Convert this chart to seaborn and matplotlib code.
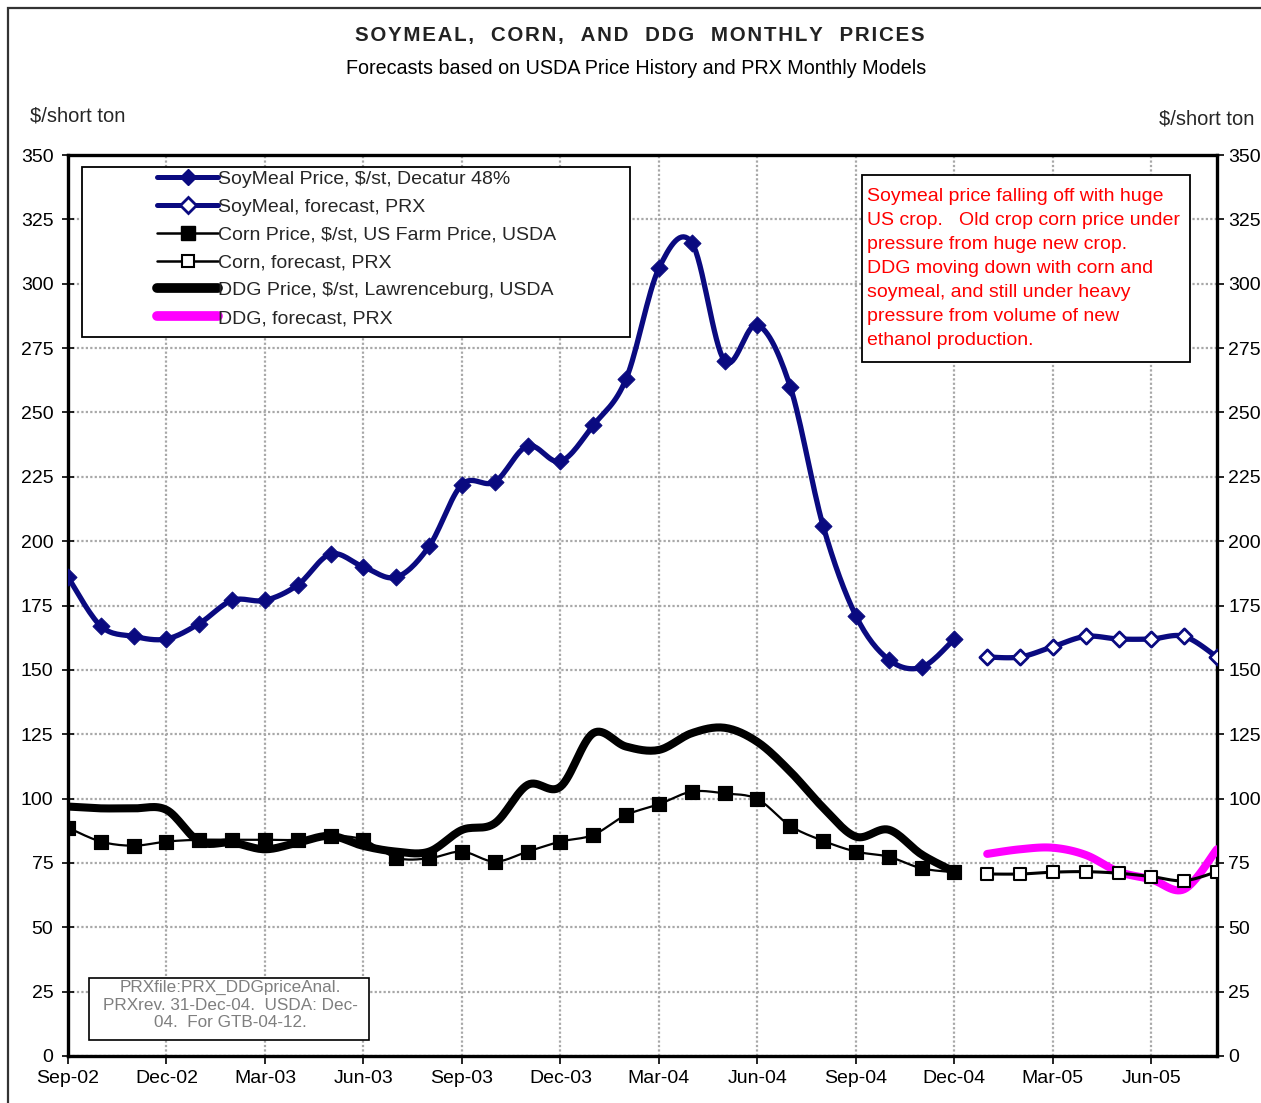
import numpy as np
import pandas as pd
import seaborn as sns
import matplotlib.pyplot as plt
from matplotlib.lines import Line2D
from matplotlib.patches import Rectangle

# monthly index: 0 = Sep-02 ... 35 = Aug-05
tick_labels = ['Sep-02', 'Dec-02', 'Mar-03', 'Jun-03', 'Sep-03', 'Dec-03',
               'Mar-04', 'Jun-04', 'Sep-04', 'Dec-04', 'Mar-05', 'Jun-05']
hist_months = np.arange(0, 28)
fcst_months = np.arange(28, 36)

soymeal_price = [186, 167, 163, 162, 168, 177, 177, 183, 195, 190, 186, 198,
                 222, 223, 237, 231, 245, 263, 306, 316, 270, 284, 260, 206,
                 171, 154, 151, 162]
soymeal_fcst = [155, 155, 159, 163, 162, 162, 163, 155]

corn_price = [88.7, 83.3, 81.7, 83.3, 84, 84, 84, 84, 85.5, 84, 77, 76.8,
              79.4, 75.5, 79.4, 83.3, 85.9, 93.6, 97.8, 102.7, 102, 99.8, 89.4, 83.6,
              79.4, 77.4, 72.9, 71.4]
corn_fcst = [70.7, 70.7, 71.4, 71.6, 71, 69.7, 68.1, 71.6]

ddg_price = [96.9, 96.2, 96.2, 95.6, 83.3, 82.9, 80.3, 82.9, 85.5, 81.6, 79.4, 79.4,
             87.8, 90.4, 105.3, 104.6, 125.4, 120.2, 118.9, 125.4, 127.5, 122, 110.5, 96.5,
             85.2, 87.9, 78.3, 71.6]
ddg_fcst = [78.5, 80.3, 80.9, 78.1, 71.6, 68.6, 64.8, 80.3]

NAVY = '#0a0a80'
MAGENTA = '#ff00ff'


def smooth(xs, ys, n=16):
    # Excel-style smoothed line (Catmull-Rom through the points)
    xs = np.asarray(xs, float)
    ys = np.asarray(ys, float)
    px = np.concatenate([[xs[0]], xs, [xs[-1]]])
    py = np.concatenate([[ys[0]], ys, [ys[-1]]])
    t = np.linspace(0, 1, n, endpoint=False)[:, None]
    outx, outy = [], []
    for i in range(len(xs) - 1):
        for p, out in ((px, outx), (py, outy)):
            p0, p1, p2, p3 = p[i], p[i + 1], p[i + 2], p[i + 3]
            c = 0.5 * (2 * p1 + (-p0 + p2) * t + (2 * p0 - 5 * p1 + 4 * p2 - p3) * t ** 2
                       + (-p0 + 3 * p1 - 3 * p2 + p3) * t ** 3)
            out.extend(c.ravel())
    outx.append(xs[-1])
    outy.append(ys[-1])
    return np.array(outx), np.array(outy)


sns.set_style('white')
plt.rcParams['font.family'] = ['Liberation Sans', 'DejaVu Sans']

fig = plt.figure(figsize=(12.61, 11.03), dpi=100)
ax = fig.add_axes([68 / 1261, 1 - 1056 / 1103, 1149 / 1261, 901 / 1103])

# DDG
x, y = smooth(hist_months, ddg_price)
sns.lineplot(x=x, y=y, ax=ax, color='black', linewidth=5.8, sort=False, estimator=None, zorder=3)
x, y = smooth(fcst_months, ddg_fcst)
sns.lineplot(x=x, y=y, ax=ax, color=MAGENTA, linewidth=5.8, sort=False, estimator=None, zorder=3)

# Corn
x, y = smooth(hist_months, corn_price)
sns.lineplot(x=x, y=y, ax=ax, color='black', linewidth=1.6, sort=False, estimator=None, zorder=4)
sns.scatterplot(x=hist_months, y=corn_price, ax=ax, marker='s', s=110, color='black',
                edgecolor='black', zorder=5)
x, y = smooth(fcst_months, corn_fcst)
sns.lineplot(x=x, y=y, ax=ax, color='black', linewidth=2.2, sort=False, estimator=None, zorder=4)
sns.scatterplot(x=fcst_months, y=corn_fcst, ax=ax, marker='s', s=75, color='white',
                edgecolor='black', linewidth=1.5, zorder=5)

# Soymeal
x, y = smooth(hist_months, soymeal_price)
sns.lineplot(x=x, y=y, ax=ax, color=NAVY, linewidth=3.8, sort=False, estimator=None, zorder=6)
sns.scatterplot(x=hist_months, y=soymeal_price, ax=ax, marker='D', s=75, color=NAVY,
                edgecolor=NAVY, zorder=7)
x, y = smooth(fcst_months, soymeal_fcst)
sns.lineplot(x=x, y=y, ax=ax, color=NAVY, linewidth=3.8, sort=False, estimator=None, zorder=6)
sns.scatterplot(x=fcst_months, y=soymeal_fcst, ax=ax, marker='D', s=60, color='white',
                edgecolor=NAVY, linewidth=2, zorder=7)

ax.set_xlim(0, 35)
ax.set_ylim(0, 350)
ax.set_xticks(np.arange(0, 36, 3))
ax.set_xticklabels(tick_labels)
ax.set_yticks(np.arange(0, 351, 25))
ax.set_xlabel('')
ax.set_ylabel('')
ax.grid(True, color='#a8a8a8', linestyle=(0, (1, 1)), linewidth=1.6)
ax.set_axisbelow(True)
for s in ax.spines.values():
    s.set_linewidth(2.4)
    s.set_color('black')
ax.tick_params(axis='both', labelsize=14, colors='black', width=1.2)
ax.tick_params(axis='y', direction='inout', length=9, pad=6, left=True, right=False)
ax.tick_params(axis='x', direction='out', length=6, bottom=True, pad=4)

# right-hand scale
ax2 = ax.twinx()
ax2.set_ylim(0, 350)
ax2.set_yticks(np.arange(0, 351, 25))
ax2.tick_params(axis='y', direction='out', length=5, width=1.2, pad=3, labelsize=14, colors='black')
ax2.grid(False)
for s in ax2.spines.values():
    s.set_visible(False)

# legend box
ax.add_patch(Rectangle((14 / 1149, 1 - 182 / 901), 548 / 1149, 170 / 901, transform=ax.transAxes,
                       facecolor='white', edgecolor='black', linewidth=1.3, zorder=8))
handles = [
    Line2D([], [], color=NAVY, lw=3.6, marker='D', ms=8.5, label='SoyMeal Price, $/st, Decatur 48%'),
    Line2D([], [], color=NAVY, lw=3.6, marker='D', ms=8, mfc='white', mew=2,
           label='SoyMeal, forecast, PRX'),
    Line2D([], [], color='black', lw=1.8, marker='s', ms=10.5, label='Corn Price, $/st, US Farm Price, USDA'),
    Line2D([], [], color='black', lw=1.8, marker='s', ms=8, mfc='white', mew=1.5,
           label='Corn, forecast, PRX'),
    Line2D([], [], color='black', lw=7, label='DDG Price, $/st, Lawrenceburg, USDA'),
    Line2D([], [], color=MAGENTA, lw=7, label='DDG, forecast, PRX'),
]
leg = ax.legend(handles=handles, loc='upper left', bbox_to_anchor=((157 - 68) / 1149, 1 - 15 / 901),
                frameon=False, fontsize=14, handlelength=3.15, handletextpad=0.0,
                labelspacing=0.53, borderpad=0, borderaxespad=0)
leg.set_zorder(9)

# comment box
ax.add_patch(Rectangle(((862 - 68) / 1149, 1 - (362 - 155) / 901), 328 / 1149, 187 / 901,
                       transform=ax.transAxes, facecolor='white', edgecolor='black',
                       linewidth=1.3, zorder=8))
note = ('Soymeal price falling off with huge\n'
        'US crop.   Old crop corn price under\n'
        'pressure from huge new crop.\n'
        'DDG moving down with corn and\n'
        'soymeal, and still under heavy\n'
        'pressure from volume of new\n'
        'ethanol production.')
ax.text((867 - 68) / 1149, 1 - (188 - 155) / 901, note, transform=ax.transAxes, color='#ff0000',
        fontsize=14, va='top', ha='left', linespacing=1.54, zorder=9)

# file info box
ax.add_patch(Rectangle(((89 - 68) / 1149, (1056 - 1040) / 901), 280 / 1149, 62 / 901,
                       transform=ax.transAxes, facecolor='white', edgecolor='black',
                       linewidth=1.2, zorder=8))
ax.text((230 - 68) / 1149, (1056 - 1005) / 901,
        'PRXfile:PRX_DDGpriceAnal.\nPRXrev. 31-Dec-04.  USDA: Dec-\n04.  For GTB-04-12.',
        transform=ax.transAxes, color='#7f7f7f', fontsize=12.3, ha='center', va='center',
        linespacing=1.2, zorder=9)

# titles
title = '\u200a'.join('SOYMEAL,  CORN,  AND  DDG  MONTHLY  PRICES')
fig.text(640 / 1261, 1 - 36 / 1103, title,
         ha='center', va='center', fontsize=14.8, fontweight='bold', color='#222222')
fig.text(636 / 1261, 1 - 68 / 1103, 'Forecasts based on USDA Price History and PRX Monthly Models',
         ha='center', va='center', fontsize=14.2, color='black')
fig.text(30 / 1261, 1 - 116 / 1103, '$/short ton', ha='left', va='center', fontsize=14.5)
fig.text(1254 / 1261, 1 - 119 / 1103, '$/short ton', ha='right', va='center', fontsize=14.5)

# outer frame
fig.add_artist(Rectangle((8 / 1261, -0.1), 1.2, 1.1 - 8 / 1103, transform=fig.transFigure,
                         fill=False, edgecolor='#333333', linewidth=1.6))

fig.savefig('out.png', dpi=100)
